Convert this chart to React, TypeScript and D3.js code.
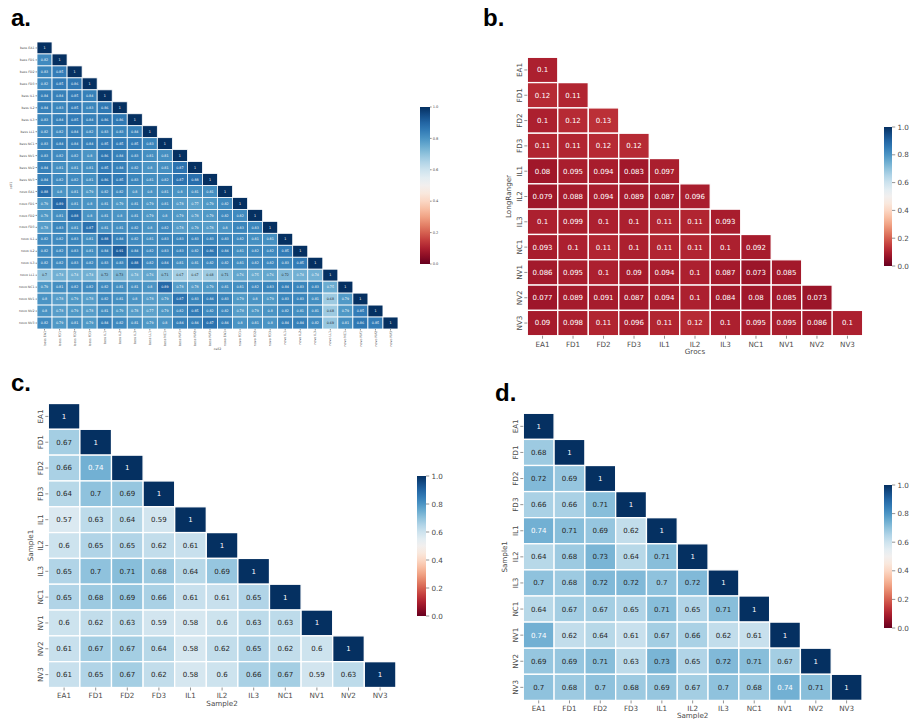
import React from 'react';
import * as d3 from 'd3';

// ---- labels ----
const SITES = ['EA1', 'FD1', 'FD2', 'FD3', 'IL1', 'IL2', 'IL3', 'NC1', 'NV1', 'NV2', 'NV3'];
const CELL_SITES = ['EA1', 'FD1', 'FD2', 'FD3', 'IL1', 'IL2', 'IL3', 'LL1', 'NC1', 'NV1', 'NV2', 'NV3'];
const CELL_LABELS = [
  ...CELL_SITES.map((s) => `bess ${s}`),
  ...CELL_SITES.map((s) => `novo ${s}`),
];
const COLORBAR_TICKS = [0, 0.2, 0.4, 0.6, 0.8, 1.0];

// ---- a. cell-by-cell correlation (lower triangle) ----
const cellCorr: number[][] = [
  [1],
  [0.82, 1],
  [0.83, 0.85, 1],
  [0.82, 0.85, 0.86, 1],
  [0.84, 0.84, 0.85, 0.84, 1],
  [0.84, 0.83, 0.85, 0.83, 0.86, 1],
  [0.83, 0.84, 0.85, 0.84, 0.86, 0.86, 1],
  [0.82, 0.82, 0.84, 0.82, 0.83, 0.83, 0.84, 1],
  [0.83, 0.84, 0.84, 0.84, 0.85, 0.85, 0.85, 0.83, 1],
  [0.83, 0.82, 0.82, 0.8, 0.86, 0.84, 0.83, 0.81, 0.81, 1],
  [0.84, 0.81, 0.81, 0.81, 0.85, 0.84, 0.82, 0.8, 0.81, 0.87, 1],
  [0.84, 0.82, 0.82, 0.81, 0.86, 0.85, 0.83, 0.81, 0.82, 0.87, 0.88, 1],
  [0.88, 0.8, 0.81, 0.79, 0.82, 0.82, 0.8, 0.8, 0.81, 0.8, 0.81, 0.81, 1],
  [0.79, 0.89, 0.81, 0.8, 0.81, 0.79, 0.81, 0.79, 0.81, 0.78, 0.77, 0.79, 0.82, 1],
  [0.79, 0.81, 0.88, 0.8, 0.81, 0.8, 0.81, 0.79, 0.8, 0.79, 0.78, 0.79, 0.82, 0.82, 1],
  [0.78, 0.83, 0.81, 0.87, 0.81, 0.81, 0.82, 0.8, 0.82, 0.78, 0.79, 0.78, 0.8, 0.83, 0.83, 1],
  [0.82, 0.82, 0.83, 0.81, 0.88, 0.84, 0.82, 0.81, 0.83, 0.83, 0.83, 0.83, 0.83, 0.82, 0.81, 0.81, 1],
  [0.82, 0.82, 0.83, 0.81, 0.84, 0.91, 0.84, 0.82, 0.83, 0.83, 0.82, 0.86, 0.84, 0.81, 0.82, 0.82, 0.85, 1],
  [0.82, 0.82, 0.83, 0.82, 0.83, 0.83, 0.88, 0.82, 0.84, 0.81, 0.81, 0.82, 0.82, 0.81, 0.82, 0.82, 0.83, 0.85, 1],
  [0.7, 0.74, 0.74, 0.74, 0.72, 0.73, 0.74, 0.76, 0.71, 0.67, 0.67, 0.68, 0.71, 0.76, 0.75, 0.76, 0.72, 0.74, 0.74, 1],
  [0.79, 0.81, 0.82, 0.82, 0.82, 0.81, 0.81, 0.8, 0.89, 0.78, 0.78, 0.79, 0.81, 0.81, 0.82, 0.83, 0.84, 0.83, 0.83, 0.75, 1],
  [0.8, 0.78, 0.79, 0.78, 0.82, 0.81, 0.8, 0.78, 0.79, 0.87, 0.83, 0.84, 0.83, 0.79, 0.8, 0.79, 0.83, 0.83, 0.81, 0.68, 0.79, 1],
  [0.8, 0.78, 0.79, 0.78, 0.81, 0.79, 0.78, 0.77, 0.79, 0.82, 0.85, 0.82, 0.82, 0.78, 0.79, 0.8, 0.82, 0.81, 0.81, 0.68, 0.79, 0.85, 1],
  [0.82, 0.79, 0.81, 0.79, 0.84, 0.82, 0.81, 0.79, 0.8, 0.84, 0.84, 0.87, 0.84, 0.8, 0.81, 0.8, 0.84, 0.84, 0.82, 0.69, 0.81, 0.86, 0.85, 1],
];

// ---- b. LongRanger vs Grocs ----
const rangerGrocs: number[][] = [
  [0.1],
  [0.12, 0.11],
  [0.1, 0.12, 0.13],
  [0.11, 0.11, 0.12, 0.12],
  [0.08, 0.095, 0.094, 0.083, 0.097],
  [0.079, 0.088, 0.094, 0.089, 0.087, 0.096],
  [0.1, 0.099, 0.1, 0.1, 0.11, 0.11, 0.093],
  [0.093, 0.1, 0.11, 0.1, 0.11, 0.11, 0.1, 0.092],
  [0.086, 0.095, 0.1, 0.09, 0.094, 0.1, 0.087, 0.073, 0.085],
  [0.077, 0.089, 0.091, 0.087, 0.094, 0.1, 0.084, 0.08, 0.085, 0.073],
  [0.09, 0.098, 0.11, 0.096, 0.11, 0.12, 0.1, 0.095, 0.095, 0.086, 0.1],
];

// ---- c. sample-by-sample ----
const sampleCorrC: number[][] = [
  [1],
  [0.67, 1],
  [0.66, 0.74, 1],
  [0.64, 0.7, 0.69, 1],
  [0.57, 0.63, 0.64, 0.59, 1],
  [0.6, 0.65, 0.65, 0.62, 0.61, 1],
  [0.65, 0.7, 0.71, 0.68, 0.64, 0.69, 1],
  [0.65, 0.68, 0.69, 0.66, 0.61, 0.61, 0.65, 1],
  [0.6, 0.62, 0.63, 0.59, 0.58, 0.6, 0.63, 0.63, 1],
  [0.61, 0.67, 0.67, 0.64, 0.58, 0.62, 0.65, 0.62, 0.6, 1],
  [0.61, 0.65, 0.67, 0.62, 0.58, 0.6, 0.66, 0.67, 0.59, 0.63, 1],
];

// ---- d. sample-by-sample ----
const sampleCorrD: number[][] = [
  [1],
  [0.68, 1],
  [0.72, 0.69, 1],
  [0.66, 0.66, 0.71, 1],
  [0.74, 0.71, 0.69, 0.62, 1],
  [0.64, 0.68, 0.73, 0.64, 0.71, 1],
  [0.7, 0.68, 0.72, 0.72, 0.7, 0.72, 1],
  [0.64, 0.67, 0.67, 0.65, 0.71, 0.65, 0.71, 1],
  [0.74, 0.62, 0.64, 0.61, 0.67, 0.66, 0.62, 0.61, 1],
  [0.69, 0.69, 0.71, 0.63, 0.73, 0.65, 0.72, 0.71, 0.67, 1],
  [0.7, 0.68, 0.7, 0.68, 0.69, 0.67, 0.7, 0.68, 0.74, 0.71, 1],
];

const FONT = '"DejaVu Sans", sans-serif';
const TICK_COLOR = '#4a4a4a';
const color = d3.scaleSequential(d3.interpolateRdBu).domain([0, 1]);
const fmt = d3.format('.2~g');

function annotColor(fill: string) {
  const c = d3.rgb(fill);
  const lin = (v: number) => {
    const s = v / 255;
    return s <= 0.03928 ? s / 12.92 : Math.pow((s + 0.055) / 1.055, 2.4);
  };
  const lum = 0.2126 * lin(c.r) + 0.7152 * lin(c.g) + 0.0722 * lin(c.b);
  return lum > 0.408 ? '#262626' : '#ffffff';
}

type Box = { x0: number; x1: number; y0: number; y1: number };

interface HeatProps {
  id: string;
  rows: string[];
  cols: string[];
  values: number[][];
  box: Box;
  annot: number;
  tick: number;
  tickLen: number;
  gap: number;
  small?: boolean; // horizontal y labels + vertical x labels
  xTitle: string;
  yTitle: string;
  xTitleY: number;
  yTitleX: number;
  xTickY: number;
  yTickX: number;
  bar: Box;
  barFont: number;
}

function Heatmap(p: HeatProps) {
  const x = d3.scaleBand<string>().domain(p.cols).range([p.box.x0, p.box.x1]);
  const y = d3.scaleBand<string>().domain(p.rows).range([p.box.y0, p.box.y1]);
  const bw = x.bandwidth();
  const bh = y.bandwidth();
  const cb = d3.scaleLinear().domain([0, 1]).range([p.bar.y1, p.bar.y0]);
  const stops = d3.range(0, 1.0001, 0.05);
  const gid = `grad-${p.id}`;
  return (
    <g>
      <defs>
        <linearGradient id={gid} x1="0" y1="1" x2="0" y2="0">
          {stops.map((s) => (
            <stop key={s} offset={s} stopColor={color(s)} />
          ))}
        </linearGradient>
      </defs>
      {p.values.map((row, i) =>
        row.map((v, j) => {
          const fill = color(v);
          const cx = x(p.cols[j])!;
          const cy = y(p.rows[i])!;
          return (
            <g key={`${i}-${j}`}>
              <rect x={cx} y={cy} width={bw} height={bh} fill={fill} stroke="#ffffff" strokeWidth={p.gap} />
              <text
                x={cx + bw / 2}
                y={cy + bh / 2}
                dy="0.35em"
                textAnchor="middle"
                fontSize={p.annot}
                fontFamily={FONT}
                fill={annotColor(fill)}
              >
                {fmt(v)}
              </text>
            </g>
          );
        })
      )}
      {/* y ticks */}
      {p.rows.map((r) => {
        const cy = y(r)! + bh / 2;
        return (
          <g key={`y-${r}`}>
            <line x1={p.box.x0 - p.tickLen} x2={p.box.x0} y1={cy} y2={cy} stroke={TICK_COLOR} strokeWidth={0.6} />
            {p.small ? (
              <text x={p.yTickX} y={cy} dy="0.35em" textAnchor="end" fontSize={p.tick} fontFamily={FONT} fill={TICK_COLOR}>
                {r}
              </text>
            ) : (
              <text
                transform={`translate(${p.yTickX},${cy}) rotate(-90)`}
                textAnchor="middle"
                fontSize={p.tick}
                fontFamily={FONT}
                fill={TICK_COLOR}
              >
                {r}
              </text>
            )}
          </g>
        );
      })}
      {/* x ticks */}
      {p.cols.map((c) => {
        const cx = x(c)! + bw / 2;
        return (
          <g key={`x-${c}`}>
            <line x1={cx} x2={cx} y1={p.box.y1} y2={p.box.y1 + p.tickLen} stroke={TICK_COLOR} strokeWidth={0.6} />
            {p.small ? (
              <text
                transform={`translate(${cx},${p.xTickY}) rotate(-90)`}
                dy="0.35em"
                textAnchor="end"
                fontSize={p.tick}
                fontFamily={FONT}
                fill={TICK_COLOR}
              >
                {c}
              </text>
            ) : (
              <text x={cx} y={p.xTickY} textAnchor="middle" fontSize={p.tick} fontFamily={FONT} fill={TICK_COLOR}>
                {c}
              </text>
            )}
          </g>
        );
      })}
      <text
        x={(p.box.x0 + p.box.x1) / 2}
        y={p.xTitleY}
        textAnchor="middle"
        fontSize={p.tick}
        fontFamily={FONT}
        fill={TICK_COLOR}
      >
        {p.xTitle}
      </text>
      <text
        transform={`translate(${p.yTitleX},${(p.box.y0 + p.box.y1) / 2}) rotate(-90)`}
        textAnchor="middle"
        fontSize={p.tick}
        fontFamily={FONT}
        fill={TICK_COLOR}
      >
        {p.yTitle}
      </text>
      {/* colorbar */}
      <rect x={p.bar.x0} y={p.bar.y0} width={p.bar.x1 - p.bar.x0} height={p.bar.y1 - p.bar.y0} fill={`url(#${gid})`} />
      {COLORBAR_TICKS.map((t) => (
        <g key={`cb-${t}`}>
          <line
            x1={p.bar.x1}
            x2={p.bar.x1 + p.barFont * 0.45}
            y1={cb(t)}
            y2={cb(t)}
            stroke={TICK_COLOR}
            strokeWidth={0.6}
          />
          <text
            x={p.bar.x1 + p.barFont * 0.75}
            y={cb(t)}
            dy="0.35em"
            fontSize={p.barFont}
            fontFamily={FONT}
            fill={TICK_COLOR}
          >
            {d3.format('.1f')(t)}
          </text>
        </g>
      ))}
    </g>
  );
}

const PanelLabel = ({ x, y, t }: { x: number; y: number; t: string }) => (
  <text x={x} y={y} fontSize={24} fontWeight="bold" fontFamily='"Liberation Sans", Arial, sans-serif' fill="#000">
    {t}
  </text>
);

export default function App() {
  return (
    <div style={{ position: 'absolute', left: 0, top: 0 }}>
      <svg width={909} height={719} viewBox="0 0 909 719" style={{ display: 'block', background: '#fff' }}>
        <PanelLabel x={11} y={26} t="a." />
        <PanelLabel x={483} y={26} t="b." />
        <PanelLabel x={11} y={391} t="c." />
        <PanelLabel x={495} y={401} t="d." />

        <Heatmap
          id="a"
          rows={CELL_LABELS}
          cols={CELL_LABELS}
          values={cellCorr}
          box={{ x0: 37, x1: 398, y0: 42, y1: 329 }}
          annot={3.3}
          tick={3.2}
          tickLen={1.5}
          gap={0.8}
          small
          xTitle="cell2"
          yTitle="cell1"
          xTitleY={350}
          yTitleX={12}
          xTickY={331}
          yTickX={34.5}
          bar={{ x0: 420, x1: 430, y0: 107, y1: 264 }}
          barFont={3.6}
        />
        <Heatmap
          id="b"
          rows={SITES}
          cols={SITES}
          values={rangerGrocs}
          box={{ x0: 527.3, x1: 862.7, y0: 57.3, y1: 335.7 }}
          annot={7}
          tick={7.2}
          tickLen={3}
          gap={1.3}
          xTitle="Grocs"
          yTitle="LongRanger"
          xTitleY={354}
          yTitleX={511}
          xTickY={346.5}
          yTickX={521.5}
          bar={{ x0: 884, x1: 892, y0: 127, y1: 266 }}
          barFont={7.2}
        />
        <Heatmap
          id="c"
          rows={SITES}
          cols={SITES}
          values={sampleCorrC}
          box={{ x0: 48.3, x1: 395.9, y0: 403.5, y1: 687.5 }}
          annot={7}
          tick={7.2}
          tickLen={3}
          gap={1.3}
          xTitle="Sample2"
          yTitle="Sample1"
          xTitleY={705.5}
          yTitleX={33}
          xTickY={698}
          yTickX={42.5}
          bar={{ x0: 417, x1: 426, y0: 476, y1: 616 }}
          barFont={7.2}
        />
        <Heatmap
          id="d"
          rows={SITES}
          cols={SITES}
          values={sampleCorrD}
          box={{ x0: 523.3, x1: 862, y0: 413.3, y1: 700.4 }}
          annot={7}
          tick={7.2}
          tickLen={3}
          gap={1.3}
          xTitle="Sample2"
          yTitle="Sample1"
          xTitleY={718}
          yTitleX={507}
          xTickY={711}
          yTickX={517.5}
          bar={{ x0: 884, x1: 892, y0: 485, y1: 628 }}
          barFont={7.2}
        />
      </svg>
    </div>
  );
}
